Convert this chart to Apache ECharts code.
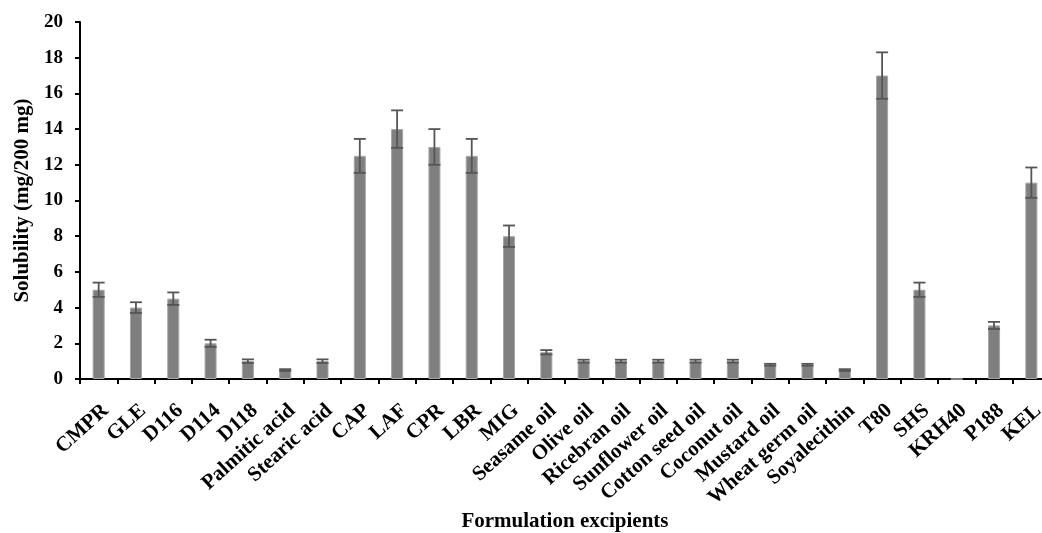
<!DOCTYPE html>
<html>
<head>
<meta charset="utf-8">
<script src="https://cdn.jsdelivr.net/npm/echarts@6/dist/echarts.min.js"></script>
<style>
  html, body { margin: 0; padding: 0; background: #fff; }
  #chart { width: 1042px; height: 533px; }
</style>
</head>
<body>
<div id="chart"></div>
<script>
// Excipients screened
const categories = [
  'CMPR', 'GLE', 'D116', 'D114', 'D118', 'Palmitic acid', 'Stearic acid',
  'CAP', 'LAF', 'CPR', 'LBR', 'MIG', 'Seasame oil', 'Olive oil', 'Ricebran oil',
  'Sunflower oil', 'Cotton seed oil', 'Coconut oil', 'Mustard oil',
  'Wheat germ oil', 'Soyalecithin', 'T80', 'SHS', 'KRH40', 'P188', 'KEL'
];
// Mean solubility (mg/200 mg)
const solubility = [
  5, 4, 4.5, 2, 1, 0.5, 1,
  12.5, 14, 13, 12.5, 8, 1.5, 1, 1,
  1, 1, 1, 0.8,
  0.8, 0.5, 17, 5, 0, 3, 11
];
// Standard deviation
const sd = [
  0.4, 0.3, 0.35, 0.2, 0.1, 0.05, 0.1,
  0.95, 1.05, 1.0, 0.95, 0.6, 0.12, 0.08, 0.08,
  0.08, 0.08, 0.08, 0.05,
  0.05, 0.05, 1.3, 0.4, 0, 0.2, 0.85
];
const yTicks = [0, 2, 4, 6, 8, 10, 12, 14, 16, 18, 20];

const font = 'Liberation Serif, Times New Roman, serif';
const chart = echarts.init(document.getElementById('chart'), null, { renderer: 'canvas' });

const errorData = categories.map((c, i) => [i, solubility[i] - sd[i], solubility[i] + sd[i]]);

chart.setOption({
  animation: false,
  backgroundColor: '#ffffff',
  grid: {
    left: 80, top: 22, width: 970, height: 357,
    containLabel: false, outerBoundsMode: 'none'
  },
  xAxis: {
    type: 'category',
    data: categories,
    boundaryGap: true,
    name: 'Formulation excipients',
    nameLocation: 'middle',
    nameGap: 132,
    nameMoveOverlap: false,
    nameTextStyle: { fontFamily: font, fontWeight: 'bold', fontSize: 21, color: '#000' },
    axisLine: { lineStyle: { color: '#000', width: 2 } },
    axisTick: { show: true, alignWithLabel: false, length: 5, lineStyle: { color: '#000', width: 2 } },
    axisLabel: {
      interval: 0, rotate: 42, margin: 21, verticalAlign: 'top',
      fontFamily: font, fontWeight: 'bold', fontSize: 21, color: '#000'
    }
  },
  yAxis: {
    type: 'value',
    min: yTicks[0],
    max: yTicks[yTicks.length - 1],
    interval: 2,
    name: 'Solubility (mg/200 mg)',
    nameLocation: 'middle',
    nameGap: 47,
    nameTextStyle: { fontFamily: font, fontWeight: 'bold', fontSize: 21, color: '#000' },
    splitLine: { show: false },
    axisLine: { show: true, lineStyle: { color: '#000', width: 2 } },
    axisTick: { show: true, length: 5, lineStyle: { color: '#000', width: 2 } },
    axisLabel: { fontFamily: font, fontWeight: 'bold', fontSize: 19, color: '#000', margin: 17 }
  },
  series: [
    {
      type: 'bar',
      data: solubility,
      barWidth: 12,
      itemStyle: { color: '#7f7f7f', borderColor: '#a6a6a6', borderWidth: 1 }
    },
    {
      type: 'custom',
      data: errorData,
      z: 5,
      renderItem: function (params, api) {
        const i = api.value(0);
        if (api.value(2) - api.value(1) <= 0) return null;
        const lo = api.coord([i, api.value(1)]);
        const hi = api.coord([i, api.value(2)]);
        const half = 6;
        const style = { stroke: '#555555', lineWidth: 1.8 };
        return {
          type: 'group',
          children: [
            { type: 'line', shape: { x1: hi[0], y1: hi[1], x2: lo[0], y2: lo[1] }, style: style },
            { type: 'line', shape: { x1: hi[0] - half, y1: hi[1], x2: hi[0] + half, y2: hi[1] }, style: style },
            { type: 'line', shape: { x1: lo[0] - half, y1: lo[1], x2: lo[0] + half, y2: lo[1] }, style: style }
          ]
        };
      }
    }
  ]
});
</script>
</body>
</html>
